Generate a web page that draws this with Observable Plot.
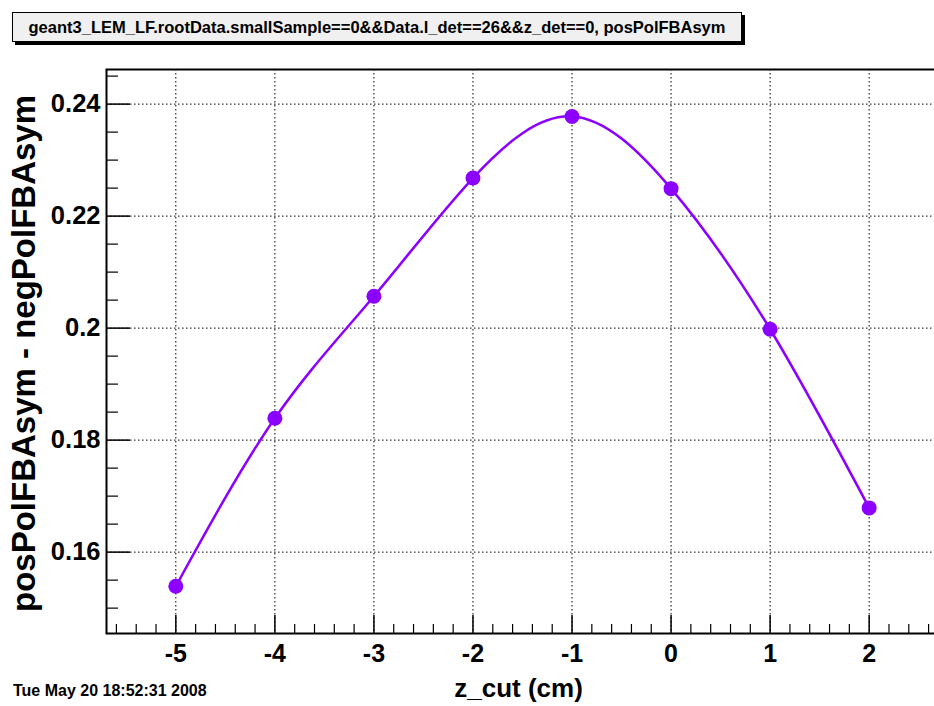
<!DOCTYPE html>
<html><head><meta charset="utf-8">
<script src="https://cdn.jsdelivr.net/npm/d3@7"></script>
<script src="https://cdn.jsdelivr.net/npm/@observablehq/plot@0.6"></script>
<style>
html,body{margin:0;padding:0;background:#fff;overflow:hidden;}
#wrap{position:relative;width:934px;height:706px;font-family:"Liberation Sans",Arial,Helvetica,sans-serif;}
#title{position:absolute;left:12px;top:12px;width:728px;height:28px;border:1px solid #000;background:#f0f0f0;box-shadow:3px 3px 0 #000;font-weight:bold;font-size:16.5px;display:flex;align-items:center;justify-content:center;white-space:nowrap;z-index:2;}
#date{position:absolute;left:13px;top:683px;line-height:16px;font-weight:bold;font-size:16px;white-space:nowrap;z-index:2;}
#chart{position:absolute;left:0;top:0;}
</style>
</head><body>
<div id="wrap">
<div id="chart"></div>
<div id="title">geant3_LEM_LF.rootData.smallSample==0&amp;&amp;Data.l_det==26&amp;&amp;z_det==0, posPolFBAsym</div>
<div id="date">Tue May 20 18:52:31 2008</div>
</div>
<script>
// data
const zCut = [-5, -4, -3, -2, -1, 0, 1, 2];
const asymDiff = [0.1539, 0.1839, 0.2057, 0.2268, 0.2378, 0.2249, 0.1998, 0.1679];
const xTickValues = [-5, -4, -3, -2, -1, 0, 1, 2];
const yTickValues = [0.16, 0.18, 0.20, 0.22, 0.24];
const yTickLabels = ["0.16", "0.18", "0.2", "0.22", "0.24"];
const xTitle = "z_cut (cm)";
const yTitle = "posPolFBAsym - negPolFBAsym";

const xMinor = d3.range(-5.6, 2.7, 0.2).map(v => +v.toFixed(1)).filter(v => !xTickValues.includes(v));
const yMinor = d3.range(0.150, 0.2451, 0.005).map(v => +v.toFixed(3)).filter(v => !yTickValues.some(t => Math.abs(t - v) < 1e-9));

const data = zCut.map((z, i) => ({z, v: asymDiff[i]}));
const purple = "#8c00ff";
const font = "'Liberation Sans', Arial, Helvetica, sans-serif";

const chart = Plot.plot({
  width: 934,
  height: 706,
  marginTop: 69,
  marginBottom: 73,
  marginLeft: 106,
  marginRight: -4,
  style: {fontFamily: font, background: "transparent", overflow: "visible"},
  x: {domain: [-5.7, 2.7], axis: null, label: null},
  y: {domain: [0.14547, 0.24618], axis: null, label: null},
  marks: [
    Plot.gridX(xTickValues, {stroke: "black", strokeOpacity: 1, strokeWidth: 1, strokeDasharray: "1.5,2.5"}),
    Plot.gridY(yTickValues, {stroke: "black", strokeOpacity: 1, strokeWidth: 1, strokeDasharray: "1.5,2.5"}),
    Plot.axisX(xTickValues, {anchor: "bottom", label: null, tickSize: -18, tickFormat: () => "", strokeWidth: 1.5}),
    Plot.axisX(xMinor, {anchor: "bottom", label: null, tickSize: -9, tickFormat: () => "", strokeWidth: 1.2}),
    Plot.axisY(yTickValues, {anchor: "left", label: null, tickSize: -24, tickFormat: () => "", strokeWidth: 1.5}),
    Plot.axisY(yMinor, {anchor: "left", label: null, tickSize: -12, tickFormat: () => "", strokeWidth: 1.2}),
    Plot.axisX(xTickValues, {anchor: "bottom", label: null, tickSize: 0, tickPadding: 11, fontSize: 25, fontWeight: "bold", fill: "black", tickFormat: d => String(d)}),
    Plot.axisY(yTickValues, {anchor: "left", label: null, tickSize: 0, tickPadding: 6, fontSize: 25.5, fontWeight: "bold", fill: "black", tickFormat: (d, i) => yTickLabels[i]}),
    Plot.frame({stroke: "black", strokeWidth: 2}),
    Plot.line(data, {x: "z", y: "v", curve: "natural", stroke: purple, strokeWidth: 2.5}),
    Plot.dot(data, {x: "z", y: "v", r: 7.5, fill: purple, stroke: "none"}),
    Plot.text([xTitle], {frameAnchor: "bottom", dx: -4, dy: 45, fontSize: 26, fontWeight: "bold", fill: "black", lineAnchor: "top"}),
    Plot.text([yTitle], {frameAnchor: "left", textAnchor: "middle", dx: -82, dy: 2, rotate: -90, fontSize: 33, fontWeight: "bold", fill: "black"})
  ]
});
document.getElementById("chart").appendChild(chart);
</script>
</body></html>
